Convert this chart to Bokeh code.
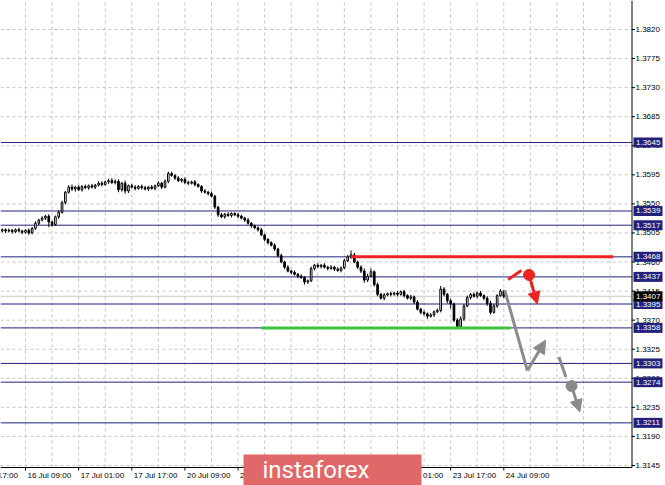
from bokeh.plotting import figure
from bokeh.models import Range1d, Arrow, NormalHead
from bokeh.core.properties import value
from bokeh.embed import file_html
from bokeh.resources import INLINE

# ---- H1 candles, bar index 0 = 16 Jul 09:00 (weekend hours skipped) ----
bar_start = -7
first_open = 1.3508
closes = [
    1.3510, 1.3508, 1.3509, 1.3507, 1.3510, 1.3508, 1.3506, 1.3509, 1.3505, 1.3512,
    1.3520, 1.3525, 1.3528, 1.3531, 1.3522, 1.3518, 1.3530, 1.3537, 1.3552, 1.3568,
    1.3576, 1.3573, 1.3576, 1.3572, 1.3577, 1.3575, 1.3578, 1.3576, 1.3579, 1.3582,
    1.3580, 1.3584, 1.3586, 1.3583, 1.3585, 1.3572, 1.3582, 1.3570, 1.3578, 1.3576,
    1.3574, 1.3577, 1.3575, 1.3573, 1.3576, 1.3574, 1.3578, 1.3582, 1.3576, 1.3585,
    1.3597, 1.3594, 1.3590, 1.3586, 1.3588, 1.3583, 1.3582, 1.3584, 1.3580, 1.3577,
    1.3570, 1.3568, 1.3566, 1.3562, 1.3545, 1.3533, 1.3530, 1.3534, 1.3532, 1.3535,
    1.3533, 1.3531, 1.3528, 1.3525, 1.3520, 1.3516, 1.3513, 1.3510, 1.3502, 1.3495,
    1.3490, 1.3486, 1.3480, 1.3470, 1.3460, 1.3452, 1.3446, 1.3444, 1.3441, 1.3438,
    1.3436, 1.3429, 1.3431, 1.3450, 1.3455, 1.3453, 1.3455, 1.3452, 1.3450, 1.3452,
    1.3449, 1.3447, 1.3451, 1.3462, 1.3468, 1.3471, 1.3460, 1.3452, 1.3446, 1.3432,
    1.3438, 1.3445, 1.3425, 1.3410, 1.3404, 1.3409, 1.3411, 1.3410, 1.3412, 1.3410,
    1.3414, 1.3408, 1.3404, 1.3406, 1.3398, 1.3387, 1.3382, 1.3380, 1.3376, 1.3378,
    1.3383, 1.3385, 1.3418, 1.3410, 1.3400, 1.3395, 1.3370, 1.3360, 1.3372, 1.3392,
    1.3405, 1.3410, 1.3407, 1.3412, 1.3408, 1.3404, 1.3396, 1.3382, 1.3392, 1.3408,
    1.3415, 1.3407,
]
upper_wick_pips = [
    2, 2, 3, 2, 2, 3, 2, 2, 3, 2,
    3, 2, 3, 2, 3, 2, 2, 3, 3, 2,
    3, 4, 2, 3, 2, 3, 2, 3, 2, 3,
    3, 2, 3, 4, 3, 3, 2, 4, 2, 3,
    3, 2, 3, 3, 2, 3, 2, 3, 2, 3,
    3, 3, 2, 3, 2, 3, 3, 2, 3, 2,
    2, 3, 2, 3, 2, 2, 3, 2, 3, 2,
    2, 3, 2, 2, 3, 2, 2, 2, 3, 2,
    2, 2, 3, 2, 3, 2, 3, 2, 3, 2,
    3, 2, 2, 3, 2, 3, 2, 3, 2, 3,
    2, 3, 2, 3, 3, 7, 3, 2, 3, 4,
    4, 5, 2, 3, 2, 3, 2, 3, 2, 3,
    2, 3, 2, 3, 2, 3, 2, 3, 2, 3,
    2, 3, 5, 3, 2, 3, 2, 3, 4, 3,
    3, 2, 3, 2, 3, 2, 3, 4, 3, 2,
    3, 2,
]
lower_wick_pips = [
    2, 3, 2, 3, 2, 2, 3, 2, 3, 2,
    2, 3, 2, 3, 8, 3, 2, 3, 2, 3,
    2, 3, 4, 2, 3, 2, 3, 2, 3, 2,
    3, 2, 3, 2, 3, 4, 3, 4, 3, 2,
    3, 2, 3, 2, 3, 2, 3, 2, 3, 2,
    3, 2, 3, 2, 3, 2, 3, 2, 3, 2,
    3, 2, 3, 2, 3, 3, 2, 3, 2, 3,
    2, 3, 2, 3, 2, 3, 2, 3, 2, 3,
    3, 2, 3, 3, 2, 3, 2, 3, 2, 3,
    2, 4, 3, 2, 3, 2, 3, 2, 3, 2,
    3, 2, 3, 2, 2, 3, 2, 3, 3, 4,
    3, 2, 3, 3, 2, 3, 2, 3, 2, 3,
    2, 3, 2, 3, 3, 2, 3, 3, 4, 2,
    3, 2, 3, 3, 4, 7, 3, 3, 2, 3,
    2, 3, 2, 3, 2, 3, 4, 3, 2, 3,
    2, 3,
]

time_tick_bars = [-16, 0, 16, 32, 48, 64, 80, 96, 112, 128, 144]
time_tick_labels = ["15 Jul 17:00", "16 Jul 09:00", "17 Jul 01:00", "17 Jul 17:00",
                    "20 Jul 09:00", "21 Jul 01:00", "21 Jul 17:00", "22 Jul 09:00",
                    "23 Jul 01:00", "23 Jul 17:00", "24 Jul 09:00"]
grid_bars = list(range(-16, 184, 8))
price_ticks = [1.3145, 1.3190, 1.3235, 1.3280, 1.3325, 1.3370, 1.3415, 1.3460,
               1.3505, 1.3550, 1.3595, 1.3640, 1.3685, 1.3730, 1.3775, 1.3820]

levels = [1.3645, 1.3539, 1.3517, 1.3468, 1.3437, 1.3395, 1.3358, 1.3303, 1.3274, 1.3211]
bid_price = 1.3407
resistance_price, resistance_bars = 1.3468, [98, 177]
support_price, support_bars = 1.3358, [71, 146]

# forecast sketch (bar index, price)
sell_stroke_bars, sell_stroke_prices = [145.3, 149.3], [1.3433, 1.3447]
sell_dot = (151.6, 1.3440)
sell_target = (154.1, 1.3395)
drop_bars, drop_prices = [144.3, 151.1], [1.3416, 1.3292]
rebound_target = (156.6, 1.3339)
alt_stroke_bars, alt_stroke_prices = [160.6, 162.7], [1.3313, 1.3282]
alt_dot = (164.4, 1.3268)
alt_target = (166.9, 1.3228)

# ---- page geometry (pixels) ----
W, H = 665, 485
AXIS_X, AXIS_Y = 631.5, 467.0      # price scale line / time scale line
BAR_PX = 3.3215                     # pixels per hourly bar
ORIGIN_PX = 25.0                    # x pixel of bar 0
PRICE_PX = 6459.0                   # pixels per 1.0 of price
REF_PRICE, REF_Y = 1.3820, 29.0


def X(px):
    """pixel column -> bar index"""
    return (px - ORIGIN_PX) / BAR_PX


def Y(py):
    """pixel row -> price"""
    return REF_PRICE - (py - REF_Y) / PRICE_PX


def dX(px):
    return px / BAR_PX


def dY(py):
    return py / PRICE_PX


NAVY = "#22227c"
RED = "#ee2222"
GREEN = "#3cc43c"
GREY = "#8a8a8a"
GRID = "#c4c4c4"
FONT = "Liberation Sans"

p = figure(width=W, height=H, output_backend="svg", toolbar_location=None,
           x_range=Range1d(X(0), X(W)), y_range=Range1d(Y(H), Y(0)),
           x_axis_location=None, y_axis_location=None, min_border=0)
p.outline_line_color = None
p.grid.visible = False
p.background_fill_color = "white"
p.border_fill_color = "white"

x_left, x_axis = X(0), X(AXIS_X)
y_top, y_axis = Y(0), Y(AXIS_Y)

# dotted grid
gb = [b for b in grid_bars if x_left <= b <= x_axis]
p.segment(x0=gb, y0=[y_axis] * len(gb), x1=gb, y1=[y_top] * len(gb),
          line_color=GRID, line_width=1, line_dash="3 3")
p.segment(x0=[x_left] * len(price_ticks), y0=price_ticks,
          x1=[x_axis] * len(price_ticks), y1=price_ticks,
          line_color=GRID, line_width=1, line_dash="3 3")

# horizontal levels
n = len(levels)
p.segment(x0=[x_left] * n, y0=levels, x1=[x_axis] * n, y1=levels, line_color=NAVY, line_width=1)
p.segment(x0=[x_left], y0=[bid_price], x1=[x_axis], y1=[bid_price], line_color="#c8c8c8", line_width=1)

# candles
bars = list(range(bar_start, bar_start + len(closes)))
opens = [first_open] + closes[:-1]
highs = [max(o, c) + u * 1e-4 for o, c, u in zip(opens, closes, upper_wick_pips)]
lows = [min(o, c) - d * 1e-4 for o, c, d in zip(opens, closes, lower_wick_pips)]
p.segment(x0=bars, y0=lows, x1=bars, y1=highs, line_color="black", line_width=1)
upi = [i for i in range(len(bars)) if closes[i] >= opens[i]]
dni = [i for i in range(len(bars)) if closes[i] < opens[i]]
p.vbar(x=[bars[i] for i in upi], width=0.5,
       top=[closes[i] for i in upi], bottom=[opens[i] for i in upi],
       fill_color="white", line_color="black", line_width=1)
p.vbar(x=[bars[i] for i in dni], width=0.5,
       top=[opens[i] for i in dni], bottom=[closes[i] for i in dni],
       fill_color="black", line_color="black", line_width=1)

# resistance / support
p.line(resistance_bars, [resistance_price] * 2, line_color=RED, line_width=3)
p.line(support_bars, [support_price] * 2, line_color=GREEN, line_width=3)

# forecast strokes and arrows
p.line(sell_stroke_bars, sell_stroke_prices, line_color=RED, line_width=3)
p.scatter([sell_dot[0]], [sell_dot[1]], size=11, fill_color=RED, line_color=RED)
p.add_layout(Arrow(x_start=sell_dot[0], y_start=sell_dot[1], x_end=sell_target[0], y_end=sell_target[1],
                   line_color=RED, line_width=3,
                   end=NormalHead(size=12, fill_color=RED, line_color=RED)))
p.line(drop_bars, drop_prices, line_color=GREY, line_width=3)
p.add_layout(Arrow(x_start=drop_bars[-1], y_start=drop_prices[-1],
                   x_end=rebound_target[0], y_end=rebound_target[1],
                   line_color=GREY, line_width=3,
                   end=NormalHead(size=13, fill_color=GREY, line_color=GREY)))
p.line(alt_stroke_bars, alt_stroke_prices, line_color=GREY, line_width=3)
p.scatter([alt_dot[0]], [alt_dot[1]], size=11, fill_color=GREY, line_color=GREY)
p.add_layout(Arrow(x_start=alt_dot[0], y_start=alt_dot[1], x_end=alt_target[0], y_end=alt_target[1],
                   line_color=GREY, line_width=3,
                   end=NormalHead(size=12, fill_color=GREY, line_color=GREY)))

# scale lines and tick marks
p.segment(x0=[x_axis, x_left], y0=[y_axis, y_axis], x1=[x_axis, x_axis], y1=[y_top, y_axis],
          line_color="black", line_width=1)
m = len(price_ticks)
p.segment(x0=[x_axis] * m, y0=price_ticks, x1=[x_axis + dX(3)] * m, y1=price_ticks,
          line_color="black", line_width=1)
tb = [b for b in time_tick_bars if b >= x_left]
p.segment(x0=tb, y0=[y_axis] * len(tb), x1=tb, y1=[y_axis - dY(3)] * len(tb),
          line_color="black", line_width=1)

# scale labels
p.text(x=[X(635)] * m, y=price_ticks, text=[f"{t:.4f}" for t in price_ticks],
       text_font=value(FONT), text_font_size=value("8px"), text_color="black",
       text_align="left", text_baseline="middle")
p.text(x=[b + dX(2) for b in time_tick_bars], y=[Y(475)] * len(time_tick_bars),
       text=time_tick_labels, text_font=value(FONT), text_font_size=value("8px"),
       text_color="black", text_align="left", text_baseline="middle")

# price tags on the scale
tag_prices = levels + [bid_price]
tag_colors = [NAVY] * len(levels) + ["black"]
p.quad(left=[X(633)] * len(tag_prices), right=[X(662)] * len(tag_prices),
       top=[t + dY(5) for t in tag_prices], bottom=[t - dY(5) for t in tag_prices],
       fill_color=tag_colors, line_color=None)
p.text(x=[X(635.5)] * len(tag_prices), y=tag_prices, text=[f"{t:.4f}" for t in tag_prices],
       text_font=value(FONT), text_font_size=value("8px"), text_color="white",
       text_align="left", text_baseline="middle")

# brand badge
p.quad(left=[X(243)], right=[X(421)], top=[Y(454)], bottom=[Y(H + 2)],
       fill_color="#e06868", line_color=None)
p.text(x=[X(262)], y=[Y(469)], text=["instaforex"], text_font=value("Roboto"),
       text_font_size=value("24px"), text_color="white",
       text_align="left", text_baseline="middle")

open("out.html", "w").write(file_html(p, INLINE))
